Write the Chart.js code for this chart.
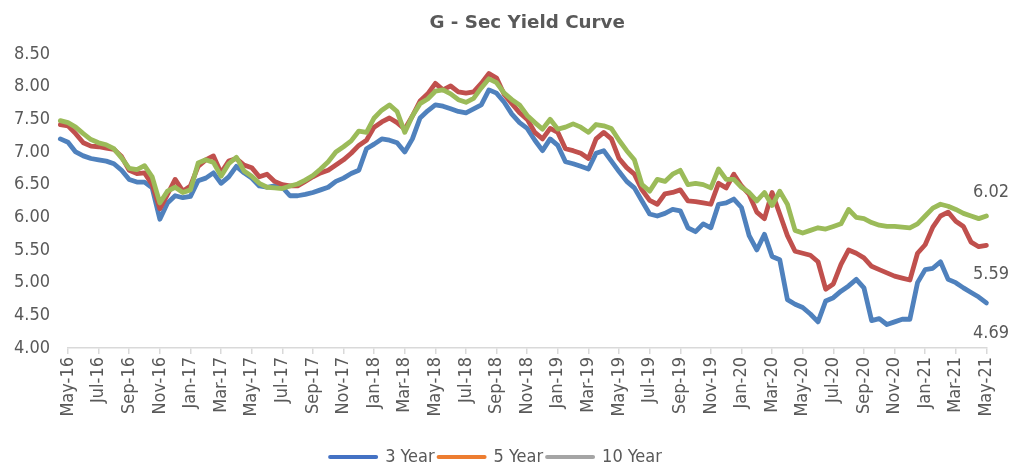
<!DOCTYPE html>
<html>
<head>
<meta charset="utf-8">
<script src="https://cdn.jsdelivr.net/npm/chart.js@4"></script>
<style>
  html, body { margin: 0; padding: 0; background: #ffffff; }
  #wrap { width: 1011px; height: 463px; }
</style>
</head>
<body>
<div id="wrap"><canvas id="c" width="1011" height="463"></canvas></div>
<script>
// ---- DATA ----
const chartTitle = 'G - Sec Yield Curve';
const seriesNames = ['3 Year', '5 Year', '10 Year'];
const tickLabels = ['May-16','Jul-16','Sep-16','Nov-16','Jan-17','Mar-17','May-17','Jul-17','Sep-17','Nov-17',
  'Jan-18','Mar-18','May-18','Jul-18','Sep-18','Nov-18','Jan-19','Mar-19','May-19','Jul-19','Sep-19','Nov-19',
  'Jan-20','Mar-20','May-20','Jul-20','Sep-20','Nov-20','Jan-21','Mar-21','May-21'];
// months since May-16 (observation dates, semi-monthly)
const months = [-1,-0.5,0,0.5,1,1.5,2,2.5,3,3.5,4,4.5,5,5.5,6,6.5,7,7.5,8,8.5,9,9.5,10,10.5,11,11.5,12,12.5,
  13,13.5,14,14.5,15,15.5,16,16.5,17,17.5,18,18.5,19,19.5,20,20.5,21,21.5,22,22.5,23,23.5,24,24.5,25,25.5,
  26,26.5,27,27.5,28,28.5,29,29.5,30,30.5,31,31.5,32,32.5,33,33.5,34,34.5,35,35.5,36,36.5,37,37.5,38,38.5,
  39,39.5,40,40.5,41,41.5,42,42.5,43,43.5,44,44.5,45,45.5,46,46.5,47,47.5,48,48.5,49,49.5,50,50.5,51,51.5,
  52,52.5,53,53.5,54,54.5,55,55.5,56,56.5,57,57.5,58,58.5,59,59.5,60];
const yield3Y = [7.22,7.20,7.15,7.00,6.94,6.90,6.88,6.86,6.82,6.72,6.58,6.54,6.54,6.45,5.97,6.22,6.33,6.30,6.32,6.56,
  6.60,6.68,6.52,6.62,6.78,6.68,6.60,6.48,6.46,6.48,6.46,6.33,6.33,6.35,6.38,6.42,6.46,6.55,6.60,6.67,
  6.72,7.05,7.12,7.20,7.18,7.14,7.00,7.20,7.52,7.63,7.72,7.70,7.66,7.62,7.60,7.66,7.72,7.95,7.90,7.76,
  7.58,7.45,7.36,7.18,7.02,7.20,7.10,6.85,6.82,6.78,6.74,6.98,7.02,6.86,6.70,6.55,6.45,6.25,6.05,6.02,
  6.06,6.12,6.10,5.84,5.78,5.90,5.84,6.20,6.22,6.28,6.15,5.72,5.50,5.74,5.40,5.35,4.74,4.67,4.62,4.52,
  4.40,4.72,4.77,4.87,4.95,5.05,4.92,4.42,4.45,4.36,4.40,4.44,4.44,5.00,5.20,5.22,5.32,5.05,5.00,4.92,
  4.85,4.78,4.69];
const yield5Y = [7.44,7.42,7.40,7.28,7.14,7.09,7.08,7.06,7.04,6.93,6.72,6.67,6.68,6.50,6.13,6.35,6.58,6.40,6.48,6.78,
  6.88,6.94,6.68,6.86,6.90,6.80,6.76,6.62,6.66,6.55,6.50,6.48,6.48,6.55,6.62,6.68,6.72,6.80,6.88,6.98,
  7.10,7.18,7.38,7.46,7.52,7.45,7.35,7.55,7.78,7.89,8.05,7.95,8.01,7.92,7.90,7.92,8.05,8.20,8.13,7.88,
  7.74,7.60,7.50,7.30,7.20,7.36,7.30,7.05,7.02,6.98,6.90,7.20,7.30,7.20,6.90,6.76,6.66,6.42,6.26,6.20,
  6.36,6.38,6.42,6.25,6.24,6.22,6.20,6.52,6.45,6.66,6.48,6.35,6.08,5.98,6.38,6.05,5.72,5.48,5.45,5.42,
  5.32,4.90,4.98,5.28,5.50,5.45,5.38,5.25,5.20,5.15,5.10,5.07,5.04,5.45,5.58,5.85,6.02,6.08,5.94,5.86,
  5.62,5.55,5.57];
const yield10Y = [7.49,7.48,7.45,7.38,7.28,7.19,7.14,7.11,7.05,6.91,6.75,6.73,6.79,6.62,6.22,6.40,6.46,6.38,6.42,6.83,
  6.88,6.84,6.63,6.82,6.92,6.71,6.63,6.52,6.46,6.45,6.44,6.48,6.51,6.57,6.64,6.74,6.85,7.00,7.08,7.17,
  7.32,7.30,7.52,7.64,7.72,7.62,7.30,7.55,7.74,7.81,7.93,7.95,7.89,7.80,7.76,7.82,7.98,8.12,8.06,7.90,
  7.80,7.72,7.56,7.45,7.35,7.50,7.35,7.38,7.43,7.38,7.30,7.42,7.40,7.36,7.18,7.02,6.88,6.50,6.40,6.58,
  6.55,6.66,6.72,6.50,6.52,6.50,6.45,6.74,6.58,6.58,6.46,6.38,6.25,6.38,6.18,6.40,6.20,5.80,5.76,5.80,
  5.84,5.82,5.86,5.90,6.12,6.00,5.98,5.92,5.88,5.86,5.86,5.85,5.84,5.90,6.02,6.14,6.20,6.17,6.12,6.06,
  6.02,5.98,6.02];
const endLabels = ['4.69', '5.59', '6.02'];
const yTicks = [4.00, 4.50, 5.00, 5.50, 6.00, 6.50, 7.00, 7.50, 8.00, 8.50];

// ---- STYLE ----
const FONT = "'DejaVu Sans Condensed', 'DejaVu Sans', sans-serif";
const TEXT = '#595959';
const lineColors = ['#4F81BD', '#C0504D', '#9BBB59'];
const legendColors = ['#4472C4', '#ED7D31', '#A5A5A5'];
const endLabelOffsets = [30, 29, -24];

function pts(arr) { return arr.map((v, i) => ({ x: months[i], y: v })); }
const seriesValues = [yield3Y, yield5Y, yield10Y];

// draw order: 10Y on top, then 5Y, then 3Y
const datasets = [2, 1, 0].map(i => ({
  label: seriesNames[i],
  data: pts(seriesValues[i]),
  borderColor: lineColors[i],
  backgroundColor: lineColors[i],
  borderWidth: 4.8,
  pointRadius: 0,
  tension: 0,
  borderJoinStyle: 'round',
  borderCapStyle: 'round',
  clip: false
}));

const endLabelPlugin = {
  id: 'endLabels',
  afterDatasetsDraw(chart) {
    const ctx = chart.ctx;
    const ys = chart.scales.y;
    ctx.save();
    ctx.font = '18px ' + FONT;
    ctx.fillStyle = TEXT;
    ctx.textAlign = 'left';
    ctx.textBaseline = 'middle';
    seriesValues.forEach((arr, i) => {
      const py = ys.getPixelForValue(arr[arr.length - 1]) + endLabelOffsets[i];
      ctx.fillText(endLabels[i], 973, py);
    });
    ctx.restore();
  }
};

new Chart(document.getElementById('c'), {
  type: 'line',
  data: { datasets },
  plugins: [endLabelPlugin],
  options: {
    responsive: false,
    animation: false,
    devicePixelRatio: 1,
    layout: { padding: { left: 0, right: 19, top: 0, bottom: -13 } },
    plugins: {
      tooltip: { enabled: false },
      title: {
        display: true,
        fullSize: false,
        text: chartTitle,
        color: TEXT,
        font: { family: "'DejaVu Sans', sans-serif", size: 18.3, weight: 'bold' },
        padding: { top: 12, bottom: 20 }
      },
      legend: {
        position: 'bottom',
        labels: {
          color: TEXT,
          font: { family: FONT, size: 18 },
          usePointStyle: true,
          pointStyleWidth: 46,
          boxHeight: 10,
          padding: 4,
          generateLabels(chart) {
            return seriesNames.map((n, i) => ({
              text: n,
              fillStyle: legendColors[i],
              strokeStyle: legendColors[i],
              lineWidth: 4,
              lineCap: 'round',
              pointStyle: 'line',
              fontColor: TEXT,
              hidden: false,
              datasetIndex: 2 - i
            }));
          }
        }
      }
    },
    scales: {
      x: {
        type: 'linear',
        min: 0,
        max: 60,
        afterBuildTicks(scale) {
          scale.ticks = tickLabels.map((_, i) => ({ value: i * 2 }));
        },
        ticks: {
          autoSkip: false,
          minRotation: 90,
          maxRotation: 90,
          padding: 3,
          color: TEXT,
          font: { family: FONT, size: 18 },
          callback: (v) => tickLabels[Math.round(v / 2)]
        },
        grid: { display: true, drawOnChartArea: false, drawTicks: true, tickLength: 6, color: '#D9D9D9', lineWidth: 1.5 },
        border: { display: true, color: '#D9D9D9', width: 1.5 },
        afterFit(scale) { scale.height = 96; }
      },
      y: {
        min: 4,
        max: 8.5,
        afterBuildTicks(scale) {
          scale.ticks = yTicks.map(v => ({ value: v }));
        },
        ticks: {
          color: TEXT,
          padding: 10,
          font: { family: FONT, size: 18 },
          callback: (v) => Number(v).toFixed(2)
        },
        grid: { display: false },
        border: { display: false },
        afterFit(scale) { scale.width = 68; }
      }
    }
  }
});
</script>
</body>
</html>
